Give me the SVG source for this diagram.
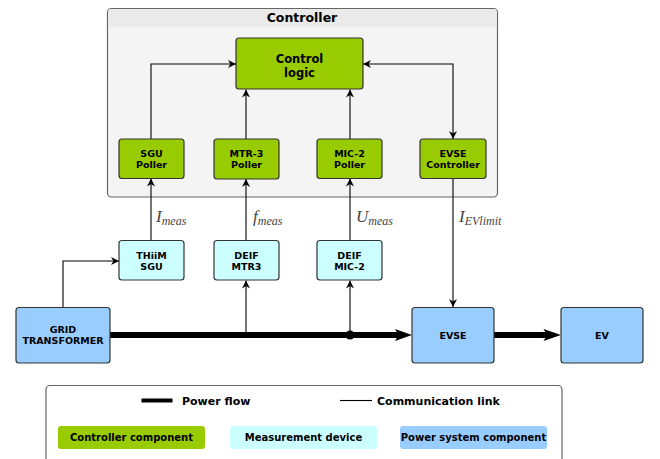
<svg xmlns="http://www.w3.org/2000/svg" width="660" height="459" viewBox="0 0 660 459">
<style>
text{font-family:"DejaVu Sans","Liberation Sans",sans-serif;font-weight:bold;fill:#000;text-anchor:middle}
.ctl{fill:#99cc00;stroke:#333;stroke-width:1.2}
.meas{fill:#ccffff;stroke:#333;stroke-width:1.2}
.pwr{fill:#99ccff;stroke:#333;stroke-width:1.2}
.b{font-size:9.5px}
.comm{fill:none;stroke:#000;stroke-width:1.1}
.power{fill:none;stroke:#000;stroke-width:6}
.ph{fill:#000}
.math{font-family:"Liberation Serif","DejaVu Serif",serif;font-style:italic;font-weight:normal;fill:#444;text-anchor:start;font-size:17px}
.sub{font-size:12px}
</style>
<defs>
<marker id="a" viewBox="0 0 10 10" refX="10" refY="5" markerWidth="8" markerHeight="8" markerUnits="userSpaceOnUse" orient="auto-start-reverse">
<path d="M0,0 L10,5 L0,10 L3,5 Z" fill="#000"/>
</marker>
</defs>

<g id="controller">
<rect x="107.5" y="8.5" width="390" height="188.5" rx="4" fill="#f4f4f4" stroke="#666" stroke-width="1.2"/>
<path d="M108.1,26.5 V12.5 a3.4,3.4 0 0 1 3.4,-3.4 H493.5 a3.4,3.4 0 0 1 3.4,3.4 V26.5 Z" fill="#eaeaea"/>
<text x="302" y="21.5" style="font-size:12.5px">Controller</text>
</g>

<g id="connectors">
<path class="comm" d="M151,139 V64 H236" marker-end="url(#a)"/>
<path class="comm" d="M246,139 V89.5" marker-end="url(#a)"/>
<path class="comm" d="M350,139 V89.5" marker-end="url(#a)"/>
<path class="comm" d="M363,64 H453 V139" marker-start="url(#a)" marker-end="url(#a)"/>
<path class="comm" d="M151,240 V178.5" marker-end="url(#a)"/>
<path class="comm" d="M246,240 V179" marker-end="url(#a)"/>
<path class="comm" d="M350,240 V178.5" marker-end="url(#a)"/>
<path class="comm" d="M453,178.5 V307" marker-end="url(#a)"/>
<path class="comm" d="M63,307.5 V261 H119" marker-end="url(#a)"/>
<path class="comm" d="M246,335 V280.5" marker-end="url(#a)"/>
<path class="comm" d="M350,335 V280.5" marker-end="url(#a)"/>
<path class="power" d="M110,335 H399"/>
<path class="ph" d="M395,329 L412,335 L395,341 L398.5,335 Z"/>
<path class="power" d="M494,335 H547"/>
<path class="ph" d="M543.5,329 L561,335 L543.5,341 L547,335 Z"/>
<circle cx="350" cy="335" r="4.5" fill="#000"/>
<text class="math" x="156" y="222">I<tspan class="sub" dy="3">meas</tspan></text>
<text class="math" x="253" y="222">f<tspan class="sub" dy="3">meas</tspan></text>
<text class="math" x="356" y="222">U<tspan class="sub" dy="3">meas</tspan></text>
<text class="math" x="459" y="222">I<tspan class="sub" dy="3">EVlimit</tspan></text>
</g>

<g id="control-logic">
<rect class="ctl" x="236" y="38" width="127" height="51" rx="3"/>
<text x="299.5" y="62.5" style="font-size:11.5px">Control</text>
<text x="299.5" y="76.5" style="font-size:11.5px">logic</text>
</g>
<g id="sgu-poller">
<rect class="ctl" x="119" y="139" width="65" height="39.5" rx="3"/>
<text class="b" x="151.5" y="156.5">SGU</text>
<text class="b" x="151.5" y="167.5">Poller</text>
</g>
<g id="mtr3-poller">
<rect class="ctl" x="214" y="139" width="65" height="40" rx="3"/>
<text class="b" x="246.5" y="157">MTR-3</text>
<text class="b" x="246.5" y="168">Poller</text>
</g>
<g id="mic2-poller">
<rect class="ctl" x="317" y="139" width="65" height="39.5" rx="3"/>
<text class="b" x="349.5" y="156.5">MIC-2</text>
<text class="b" x="349.5" y="167.5">Poller</text>
</g>
<g id="evse-controller">
<rect class="ctl" x="420" y="139" width="66" height="39.5" rx="3"/>
<text class="b" x="453" y="156.5">EVSE</text>
<text class="b" x="453" y="167.5">Controller</text>
</g>

<g id="thiim-sgu">
<rect class="meas" x="119" y="240.5" width="65" height="39.5" rx="3"/>
<text class="b" x="151.5" y="258.5">THiiM</text>
<text class="b" x="151.5" y="269.5">SGU</text>
</g>
<g id="deif-mtr3">
<rect class="meas" x="214" y="240.5" width="65" height="39.5" rx="3"/>
<text class="b" x="246.5" y="258.5">DEIF</text>
<text class="b" x="246.5" y="269.5">MTR3</text>
</g>
<g id="deif-mic2">
<rect class="meas" x="317" y="240.5" width="65" height="39.5" rx="3"/>
<text class="b" x="349.5" y="258.5">DEIF</text>
<text class="b" x="349.5" y="269.5">MIC-2</text>
</g>

<g id="grid-transformer">
<rect class="pwr" x="16" y="307.5" width="94" height="55.5" rx="3"/>
<text class="b" x="63" y="333">GRID</text>
<text class="b" x="63" y="344">TRANSFORMER</text>
</g>
<g id="evse">
<rect class="pwr" x="412" y="307.5" width="82" height="55.5" rx="3"/>
<text class="b" x="453" y="339">EVSE</text>
</g>
<g id="ev">
<rect class="pwr" x="561" y="307.5" width="82" height="55.5" rx="3"/>
<text class="b" x="602" y="339">EV</text>
</g>

<g id="legend">
<rect x="46" y="385.5" width="516" height="90" rx="4" fill="#fff" stroke="#666" stroke-width="1.2"/>
<line x1="141.5" y1="400.5" x2="172.5" y2="400.5" stroke="#000" stroke-width="4"/>
<text x="182" y="404.5" style="font-size:11px;text-anchor:start">Power flow</text>
<line x1="340" y1="400.5" x2="372" y2="400.5" stroke="#000" stroke-width="1.1"/>
<text x="377" y="404.5" style="font-size:11px;text-anchor:start">Communication link</text>
<rect x="58" y="426" width="147" height="23" rx="3" fill="#99cc00"/>
<text x="131.5" y="441" style="font-size:10px">Controller component</text>
<rect x="230" y="426" width="147" height="23" rx="3" fill="#ccffff"/>
<text x="303.5" y="441" style="font-size:10px">Measurement device</text>
<rect x="400" y="426" width="147" height="23" rx="3" fill="#99ccff"/>
<text x="473.5" y="441" style="font-size:10px">Power system component</text>
</g>
</svg>
